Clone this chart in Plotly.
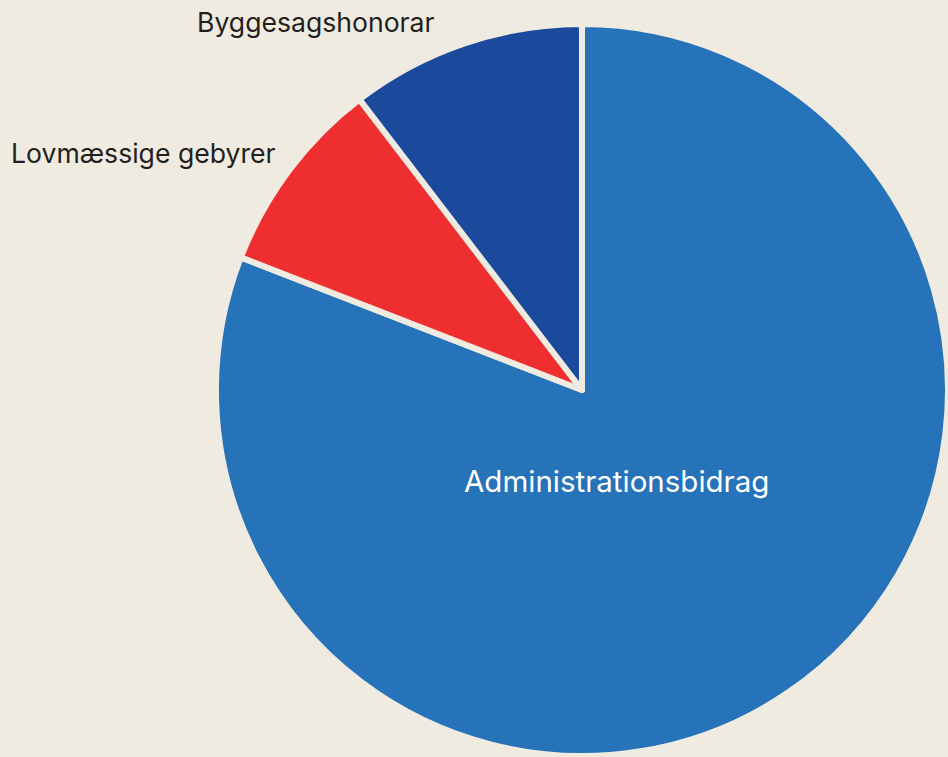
import plotly.graph_objects as go

labels = ["Administrationsbidrag", "Lovmæssige gebyrer", "Byggesagshonorar"]
values = [80.9, 8.7, 10.4]
colors = ["#2773B9", "#EF2F2F", "#1B4A9D"]
text_colors = ["#FFFFFF", "#231F20", "#231F20"]
text_sizes = [29.5, 26.6, 26.6]
# label anchor points (paper fraction) and anchoring
label_x = [0.650, 0.293, 0.461]
label_y = [0.365, 0.798, 0.971]
label_xanchor = ["center", "right", "right"]

BG = "#F0EBE1"

fig = go.Figure(
    go.Pie(
        labels=labels,
        values=values,
        sort=False,
        direction="clockwise",
        rotation=0,
        marker=dict(colors=colors, line=dict(color=BG, width=6)),
        textinfo="none",
        showlegend=False,
        hoverinfo="label+percent",
        domain=dict(x=[0.2278, 1.0], y=[0.0, 0.9696]),
    )
)

for lab, x, y, xa, c, s in zip(labels, label_x, label_y, label_xanchor, text_colors, text_sizes):
    fig.add_annotation(
        text=lab, x=x, y=y, xref="paper", yref="paper",
        xanchor=xa, yanchor="middle", showarrow=False,
        font=dict(family="Inter", size=s, color=c),
    )

fig.update_layout(
    width=948,
    height=757,
    margin=dict(l=0, r=0, t=0, b=0),
    paper_bgcolor=BG,
    plot_bgcolor=BG,
    font=dict(family="Inter"),
)

fig.write_html(
    "out.html",
    config={"displayModeBar": False},
    post_script="document.body.style.margin='0';document.body.style.overflow='hidden';",
)
